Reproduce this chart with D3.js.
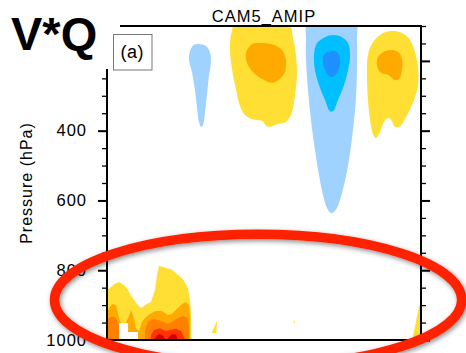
<!DOCTYPE html>
<html><head><meta charset="utf-8">
<script src="https://cdn.jsdelivr.net/npm/d3@7"></script>
<style>body{margin:0;background:#fff}svg{display:block}text{font-family:"Liberation Sans",Arial,Helvetica,sans-serif}</style>
</head><body><svg id="c" width="466" height="353"></svg>
<script>
// ---------- text ----------
const titleText = "CAM5_AMIP";
const panelLabel = "(a)";
const bigLabel = "V*Q";
const yLabel = "Pressure (hPa)";

// ---------- axes ----------
const xDomain = [-90, 90];          // latitude
const pDomain = [100, 1000];        // pressure (hPa)
const majorTicks = [200, 400, 600, 800, 1000];
const majorTickLabels = ["", "400", "600", "800", "1000"];   // 200 label hidden under the pasted "V*Q"
const minorTicks = [100, 150, 250, 300, 350, 450, 500, 550, 650, 700, 750, 850, 900, 950];

// ---------- contour levels & colours ----------
const levels = [-3, -2, -1, 1, 2, 3, 4, 5];
const levelColors = ["#1e90ff", "#00bfff", "#a0d2ff", "#ffdf33", "#ffaa00", "#ff7f00", "#ff3300", "#d40000"];

// ---------- contour outlines [lat, hPa] ----------
// upper troposphere (smooth)
const negL1West = [[-36.7,152],[-33.2,157],[-31.0,175],[-30.4,203],[-31.5,240],[-32.7,298],[-33.8,346],[-35.0,384],[-36.1,389],[-37.3,375],[-38.4,335],[-39.6,283],[-41.3,232],[-43.0,197],[-42.4,172],[-40.1,154]];
const posL1Center = [[-16.0,90],[13.8,90],[16.6,134],[18.3,183],[18.9,240],[17.8,298],[16.1,346],[13.2,372],[8.0,381],[2.3,389],[-1.1,372],[-6.9,367],[-11.5,352],[-14.3,321],[-16.0,283],[-18.3,226],[-19.5,169],[-18.9,126]];
const posL2Center = [[-6.9,152],[-1.1,149],[5.7,154],[10.3,169],[12.6,197],[12.0,232],[9.1,252],[4.6,263],[-1.1,252],[-6.3,232],[-9.7,206],[-10.3,175]];
const negL1East = [[25.2,90],[52.2,90],[53.3,140],[53.3,226],[52.7,312],[51.0,398],[48.7,484],[45.9,556],[43.0,607],[40.7,630],[38.4,636],[36.1,622],[33.8,584],[31.5,527],[29.2,455],[26.9,369],[25.2,283],[24.1,197],[24.1,140]];
const negL2East = [[35.0,132],[39.6,126],[44.7,132],[48.2,149],[49.3,183],[48.2,226],[45.9,269],[42.4,312],[39.6,344],[37.8,344],[35.0,312],[31.5,269],[29.2,226],[28.7,183],[30.4,149]];
const negL3East = [[36.7,175],[40.7,172],[43.0,183],[43.6,206],[42.4,229],[39.6,246],[37.3,243],[35.0,226],[33.8,203],[34.4,183]];
const posL1North = [[68.2,120],[73.4,114],[79.1,120],[83.7,140],[86.6,175],[88.3,220],[88.3,269],[86.0,312],[82.0,355],[78.0,387],[75.1,389],[72.8,369],[71.1,364],[68.8,375],[66.5,404],[64.2,421],[62.5,410],[60.8,369],[59.6,312],[59.0,240],[59.6,183],[62.5,146]];
const posL2North = [[68.2,175],[73.4,169],[77.4,177],[79.1,197],[79.1,226],[77.4,252],[75.1,255],[71.1,240],[67.1,235],[64.8,215],[65.3,189]];

// boundary layer (jagged)
const posL1South = [[-92,862],[-88.3,851],[-86.0,840],[-83.1,834],[-80.3,842],[-77.9,857],[-75.7,877],[-72.8,897],[-70.5,908],[-68.2,900],[-64.8,891],[-62.5,857],[-61.3,814],[-60.2,788],[-57.9,791],[-55.6,794],[-52.7,799],[-49.9,811],[-46.5,825],[-43.6,851],[-42.4,885],[-41.8,928],[-41.8,1015],[-92,1015]];
const posL2South = [[-92,914],[-89.4,914],[-87.1,897],[-84.8,900],[-83.7,925],[-82.5,948],[-79.7,954],[-77.9,937],[-76.2,914],[-74.5,937],[-73.4,966],[-71.6,974],[-69.9,948],[-68.2,937],[-65.3,925],[-61.9,917],[-58.5,917],[-55.0,928],[-52.7,925],[-49.9,911],[-47.0,897],[-44.8,891],[-43.0,900],[-42.4,928],[-42.4,1015],[-92,1015]];
const posL3SouthW = [[-92,948],[-87.7,934],[-85.4,934],[-83.7,948],[-82.5,971],[-82.0,1015],[-92,1015]];
const posL3SouthE = [[-68.2,971],[-66.5,948],[-63.6,940],[-60.8,943],[-57.9,948],[-55.0,954],[-52.2,946],[-49.3,937],[-46.5,931],[-44.2,937],[-43.0,957],[-43.0,1015],[-68.2,1015]];
const posL4South = [[-65.3,1015],[-64.8,986],[-63.1,971],[-59.6,966],[-56.2,974],[-53.9,971],[-50.4,968],[-47.6,974],[-45.9,991],[-45.3,1015]];
const posL5South = [[-63.1,1015],[-62.5,994],[-60.2,983],[-57.9,988],[-56.2,1000],[-55.0,994],[-52.7,983],[-50.4,986],[-49.3,1000],[-48.7,1015]];
const posL1Sliver1 = [[-30.0,980],[-26.9,945],[-27.3,980]];
const posL1Sliver2 = [[16.9,951],[17.3,940],[17.7,951]];
const posL1SliverN = [[85.4,1015],[85.4,991],[86.6,960],[88.9,903],[91,890],[91,1015]];
const missingSouth = [[-83.1,951],[-77.9,951],[-77.9,977],[-72.2,977],[-72.2,1015],[-83.1,1015]];

// annotation ellipse [centre lat, centre hPa, half-width deg, half-height hPa]
const highlightEllipse = [-3.4, 885, 116.7, 188];

const contours = [
  {level: 1, smooth: true, pts: posL1Center},
  {level: 2, smooth: true, pts: posL2Center},
  {level: 1, smooth: true, pts: posL1North},
  {level: 2, smooth: true, pts: posL2North},
  {level: -1, smooth: true, pts: negL1West},
  {level: -1, smooth: true, pts: negL1East},
  {level: -2, smooth: true, pts: negL2East},
  {level: -3, smooth: true, pts: negL3East},
  {level: 1, smooth: false, pts: posL1South},
  {level: 2, smooth: false, pts: posL2South},
  {level: 3, smooth: false, pts: posL3SouthW},
  {level: 3, smooth: false, pts: posL3SouthE},
  {level: 4, smooth: false, pts: posL4South},
  {level: 5, smooth: false, pts: posL5South},
  {level: 1, smooth: false, pts: posL1Sliver1},
  {level: 1, smooth: false, pts: posL1Sliver2},
  {level: 1, smooth: false, pts: posL1SliverN}
];

// ---------- drawing ----------
const plot = {left: 107, right: 421, top: 26, bottom: 340};
const svg = d3.select("#c");
const x = d3.scaleLinear().domain(xDomain).range([plot.left, plot.right]);
const y = d3.scaleLinear().domain(pDomain).range([plot.top, plot.bottom]);
const color = d3.scaleOrdinal().domain(levels).range(levelColors);

const defs = svg.append("defs");
defs.append("clipPath").attr("id", "clip").append("rect")
  .attr("x", plot.left).attr("y", plot.top)
  .attr("width", plot.right - plot.left).attr("height", plot.bottom - plot.top);
const f = defs.append("filter").attr("id", "shadow").attr("x", "-20%").attr("y", "-30%").attr("width", "140%").attr("height", "160%");
f.append("feDropShadow").attr("dx", 1.5).attr("dy", 2).attr("stdDeviation", 2.5).attr("flood-color", "#000").attr("flood-opacity", 0.45);

const smoothLine = d3.line().x(d => x(d[0])).y(d => y(d[1])).curve(d3.curveCatmullRomClosed.alpha(0.5));
const sharpLine = d3.line().x(d => x(d[0])).y(d => y(d[1])).curve(d3.curveLinearClosed);

const gFill = svg.append("g").attr("clip-path", "url(#clip)");
gFill.selectAll("path.c").data(contours).join("path").attr("class", "c")
  .attr("d", d => (d.smooth ? smoothLine : sharpLine)(d.pts))
  .attr("fill", d => color(d.level)).attr("stroke", "none");
gFill.append("path").attr("d", sharpLine(missingSouth)).attr("fill", "#fff");

// axes
function styleAxis(g, w) {
  g.select(".domain").remove();
  g.selectAll(".tick line").attr("stroke", "#000").attr("stroke-width", w);
  g.selectAll(".tick text").attr("fill", "#000").style("font-size", "16.5px").style("letter-spacing", "1px");
}
const gl = svg.append("g").attr("transform", `translate(${plot.left},0)`)
  .call(d3.axisLeft(y).tickValues(majorTicks).tickSize(9).tickPadding(11).tickFormat((d, i) => majorTickLabels[i]));
styleAxis(gl, 2);
const glm = svg.append("g").attr("transform", `translate(${plot.left},0)`)
  .call(d3.axisLeft(y).tickValues(minorTicks).tickSize(5).tickFormat(""));
styleAxis(glm, 1.3);
const gr = svg.append("g").attr("transform", `translate(${plot.right},0)`)
  .call(d3.axisRight(y).tickValues(majorTicks).tickSize(9).tickFormat(""));
styleAxis(gr, 2);
const grm = svg.append("g").attr("transform", `translate(${plot.right},0)`)
  .call(d3.axisRight(y).tickValues(minorTicks).tickSize(5).tickFormat(""));
styleAxis(grm, 1.3);

svg.append("rect").attr("x", plot.left).attr("y", plot.top)
  .attr("width", plot.right - plot.left).attr("height", plot.bottom - plot.top)
  .attr("fill", "none").attr("stroke", "#000").attr("stroke-width", 2);

// title
svg.append("text").attr("x", 264).attr("y", 22).attr("text-anchor", "middle")
  .style("font-size", "16.5px").style("letter-spacing", "1px").text(titleText);

// y label
svg.append("text").attr("transform", "translate(32,183) rotate(-90)").attr("text-anchor", "middle")
  .style("font-size", "16px").style("letter-spacing", "1px").text(yLabel);

// pasted cover + big label
svg.append("rect").attr("x", 0).attr("y", 0).attr("width", 120).attr("height", 69).attr("fill", "#fff");
svg.append("text").attr("x", 11).attr("y", 50).style("font-size", "47px").style("font-weight", "bold").text(bigLabel);

// panel label box
svg.append("rect").attr("x", 113.5).attr("y", 34.5).attr("width", 38.5).attr("height", 35.5)
  .attr("fill", "#fff").attr("stroke", "#777").attr("stroke-width", 1);
svg.append("text").attr("x", 120.5).attr("y", 58).style("font-size", "18px").style("letter-spacing", "0.5px").text(panelLabel);

// annotation ellipse
const [ecx, ecp, erx, erp] = highlightEllipse;
svg.append("ellipse")
  .attr("cx", x(ecx)).attr("cy", y(ecp))
  .attr("rx", x(ecx + erx) - x(ecx)).attr("ry", y(ecp + erp) - y(ecp))
  .attr("fill", "none").attr("stroke", "#ff2200").attr("stroke-width", 9.5)
  .attr("filter", "url(#shadow)");
</script>
</body></html>
